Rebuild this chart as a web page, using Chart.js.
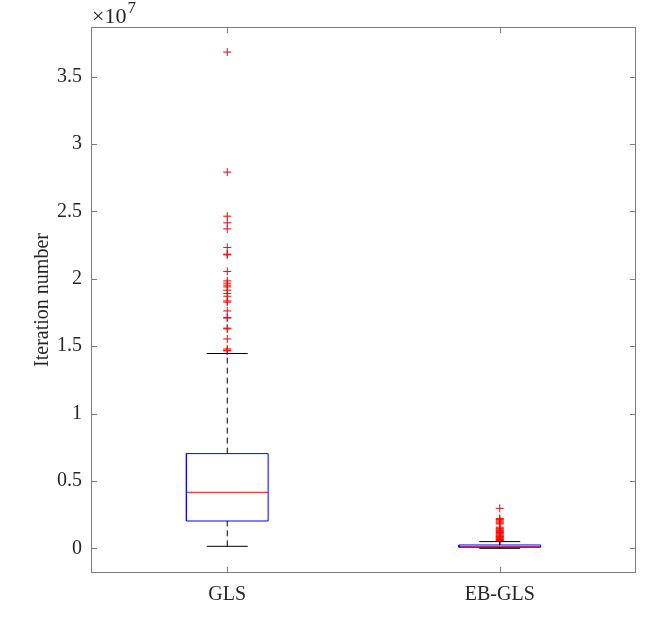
<!DOCTYPE html>
<html>
<head>
<meta charset="utf-8">
<script src="https://cdn.jsdelivr.net/npm/chart.js@4/dist/chart.umd.min.js"></script>
<style>
  html, body { margin: 0; padding: 0; background: #fff; }
  #wrap { width: 664px; height: 637px; }
</style>
</head>
<body>
<div id="wrap"><canvas id="boxChart" width="664" height="637"></canvas></div>
<script>
// values are in units of 1e7 iterations
const categories = ["GLS", "EB-GLS"];
const q1Values = [0.203, 0.008];
const medianValues = [0.416, 0.012];
const q3Values = [0.703, 0.025];
const whiskerLow = [0.015, 0.000];
const whiskerHigh = [1.446, 0.050];
const outliersGLS = [3.683, 2.792, 2.465, 2.416, 2.371, 2.233, 2.183, 2.178, 2.055, 1.985,
    1.968, 1.953, 1.940, 1.916, 1.891, 1.871, 1.836, 1.827, 1.762, 1.713, 1.709, 1.634,
    1.629, 1.554, 1.480, 1.470, 1.466];
const outliersEB = [0.297, 0.221, 0.213, 0.204, 0.196, 0.188, 0.181, 0.157, 0.149, 0.143,
    0.136, 0.131, 0.124, 0.118, 0.112, 0.106, 0.099, 0.093, 0.088, 0.082, 0.076, 0.071,
    0.066, 0.061, 0.057, 0.053];
const outlierLists = [outliersGLS, outliersEB];
const yTicks = [0, 0.5, 1, 1.5, 2, 2.5, 3, 3.5];

const FONT = "'Liberation Serif', 'Times New Roman', serif";
const AXIS_COLOR = "#7a7a7a";
const boxHalf = 0.15;
const capHalf = 0.075;

function seg(points, color, dash){
    return {
        type: "scatter",
        data: points,
        showLine: true,
        borderColor: color,
        borderWidth: 1,
        borderDash: dash || [],
        pointRadius: 0,
        fill: false
    };
}

const datasets = [];
categories.forEach((name, i) => {
    const p = i + 1;
    datasets.push(seg([{x:p, y:q3Values[i]}, {x:p, y:whiskerHigh[i]}], "#000", [6,4]));
    datasets.push(seg([{x:p, y:whiskerLow[i]}, {x:p, y:q1Values[i]}], "#000", [6,4]));
    datasets.push(seg([{x:p-capHalf, y:whiskerHigh[i]}, {x:p+capHalf, y:whiskerHigh[i]}], "#000"));
    datasets.push(seg([{x:p-capHalf, y:whiskerLow[i]}, {x:p+capHalf, y:whiskerLow[i]}], "#000"));
    datasets.push(seg([
        {x:p-boxHalf, y:q1Values[i]}, {x:p+boxHalf, y:q1Values[i]},
        {x:p+boxHalf, y:q3Values[i]}, {x:p-boxHalf, y:q3Values[i]},
        {x:p-boxHalf, y:q1Values[i]}
    ], "#0000ff"));
    datasets.push(seg([{x:p-boxHalf, y:medianValues[i]}, {x:p+boxHalf, y:medianValues[i]}], "#ff0000"));
    datasets.push({
        type: "scatter",
        data: outlierLists[i].map(v => ({x:p, y:v})),
        pointStyle: "cross",
        pointRadius: 4,
        borderColor: "#ff0000",
        borderWidth: 1,
        showLine: false
    });
});

// matlab-style frame, inward ticks and the exponent label
const axesFrame = {
    id: "axesFrame",
    afterDraw(chart){
        const {ctx, chartArea:a, scales} = chart;
        ctx.save();
        ctx.strokeStyle = AXIS_COLOR;
        ctx.lineWidth = 1;
        ctx.strokeRect(a.left + 0.5, a.top + 0.5, a.right - a.left - 1, a.bottom - a.top - 1);
        ctx.beginPath();
        yTicks.forEach(v => {
            const y = Math.round(scales.y.getPixelForValue(v)) + 0.5;
            ctx.moveTo(a.left, y); ctx.lineTo(a.left + 6, y);
            ctx.moveTo(a.right, y); ctx.lineTo(a.right - 6, y);
        });
        categories.forEach((c, i) => {
            const x = Math.round(scales.x.getPixelForValue(i + 1)) + 0.5;
            ctx.moveTo(x, a.bottom); ctx.lineTo(x, a.bottom - 6);
            ctx.moveTo(x, a.top); ctx.lineTo(x, a.top + 6);
        });
        ctx.stroke();

        ctx.fillStyle = "#262626";
        ctx.textBaseline = "alphabetic";
        ctx.font = "22px " + FONT;
        ctx.fillText("\u00d710", a.left + 1, 23);
        const w = ctx.measureText("\u00d710").width;
        ctx.font = "17px " + FONT;
        ctx.fillText("7", a.left + 2 + w, 13);
        ctx.restore();
    }
};

new Chart(document.getElementById("boxChart"), {
    type: "scatter",
    data: { datasets },
    options: {
        responsive: false,
        animation: false,
        devicePixelRatio: 1,
        layout: { padding: { left: 0, top: 27, right: 28, bottom: 0 } },
        plugins: { legend: { display: false }, tooltip: { enabled: false } },
        scales: {
            x: {
                type: "linear",
                min: 0.5,
                max: 2.5,
                grid: { display: false, drawTicks: false },
                border: { display: false },
                afterBuildTicks: s => { s.ticks = categories.map((c, i) => ({ value: i + 1 })); },
                afterFit: s => { s.height = 64; },
                ticks: {
                    padding: 10,
                    color: "#262626",
                    font: { family: FONT, size: 20 },
                    callback: v => categories[v - 1]
                }
            },
            y: {
                type: "linear",
                min: -0.183,
                max: 3.869,
                grid: { display: false, drawTicks: false },
                border: { display: false },
                afterBuildTicks: s => { s.ticks = yTicks.map(v => ({ value: v })); },
                afterFit: s => { s.width = 91; },
                title: {
                    display: true,
                    text: "Iteration number",
                    color: "#262626",
                    font: { family: FONT, size: 20 },
                    padding: { top: 31, bottom: 0 }
                },
                ticks: {
                    padding: 9,
                    color: "#262626",
                    font: { family: FONT, size: 20 },
                    callback: v => String(v)
                }
            }
        }
    },
    plugins: [axesFrame]
});
</script>
</body>
</html>
